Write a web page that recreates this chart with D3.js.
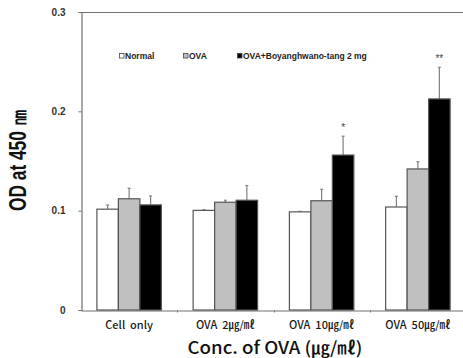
<!DOCTYPE html>
<html>
<head>
<meta charset="utf-8">
<script src="https://cdn.jsdelivr.net/npm/d3@7"></script>
<style>
  html, body { margin: 0; padding: 0; background: #fff; }
  svg { display: block; }
</style>
</head>
<body>
<svg id="chart" width="463" height="358"></svg>
<script>
// Groups along the x axis
const categories = ["Cell  only", "OVA  2㎍/㎖", "OVA  10㎍/㎖", "OVA  50㎍/㎖"];
// Series (legend order)
const seriesNames = ["Normal", "OVA", "OVA+Boyanghwano-tang 2 mg"];
const seriesColors = ["#ffffff", "#c0c0c0", "#000000"];
// Mean OD per series, one value per group
const normalValues = [0.1015, 0.1003, 0.0988, 0.1037];
const ovaValues    = [0.1120, 0.1085, 0.1100, 0.1420];
const boyangValues = [0.1058, 0.1105, 0.1560, 0.2125];
// Standard error per series, one value per group
const normalErr = [0.0042, 0.0006, 0.0005, 0.0108];
const ovaErr    = [0.0105, 0.0020, 0.0115, 0.0072];
const boyangErr = [0.0090, 0.0148, 0.0190, 0.0318];
// Significance marks per group for the Boyanghwano-tang series
const boyangSig = ["", "", "*", "**"];
// Y axis ticks
const yTicks = [0, 0.1, 0.2, 0.3];
const yTickLabels = ["0", "0.1", "0.2", "0.3"];

const seriesValues = [normalValues, ovaValues, boyangValues];
const seriesErr = [normalErr, ovaErr, boyangErr];

const svg = d3.select("#chart");
const plotLeft = 81, plotTop = 12, plotBottom = 310, plotRight = 466;

const x0 = d3.scaleBand().domain(categories).range([plotLeft, plotRight]).padding(0);
const x1 = d3.scaleBand().domain(d3.range(3)).range([0, x0.bandwidth()])
  .paddingInner(0).paddingOuter(0.74);
const y = d3.scaleLinear().domain([0, 0.3]).range([plotBottom, plotTop]);

const axisColor = "#707070";
const cjk = "'Noto Sans CJK KR', 'Noto Sans', sans-serif";
const sans = "'Liberation Sans', Arial, sans-serif";

// Frame: top border line
svg.append("line")
  .attr("x1", plotLeft).attr("x2", 463).attr("y1", y(0.3) + 0.5).attr("y2", y(0.3) + 0.5)
  .attr("stroke", axisColor).attr("stroke-width", 1.2);

// Y axis
const yAxis = svg.append("g").attr("transform", `translate(${plotLeft + 0.5},0)`)
  .call(d3.axisLeft(y).tickValues(yTicks).tickSize(3).tickFormat((d, i) => yTickLabels[i]));
yAxis.select(".domain").attr("stroke", axisColor).attr("stroke-width", 1.2);
yAxis.selectAll(".tick line").attr("stroke", axisColor);
yAxis.selectAll(".tick text")
  .attr("x", -16)
  .attr("fill", "#333")
  .style("font-family", sans).style("font-weight", "bold").style("font-size", "10px");

// X axis
const xAxis = svg.append("g").attr("transform", `translate(0,${plotBottom + 0.5})`)
  .call(d3.axisBottom(x0).tickSize(0).tickPadding(11));
xAxis.select(".domain").attr("stroke", axisColor).attr("stroke-width", 1.2);
xAxis.selectAll(".tick text")
  .attr("fill", "#1a1a1a")
  .style("font-family", cjk).style("font-size", "11px").style("font-weight", "500")
  .style("white-space", "pre")
  .attr("xml:space", "preserve");
// small ticks at group boundaries
xAxis.selectAll(".bound").data(categories.slice(1)).enter().append("line")
  .attr("x1", d => Math.round(x0(d)) + 0.5).attr("x2", d => Math.round(x0(d)) + 0.5)
  .attr("y1", 0).attr("y2", 2)
  .attr("stroke", axisColor);

// Bars
const groups = svg.append("g").selectAll("g").data(categories).enter().append("g")
  .attr("transform", d => `translate(${x0(d)},0)`);

groups.each(function (cat, gi) {
  const g = d3.select(this);
  seriesValues.forEach((vals, si) => {
    const v = vals[gi], e = seriesErr[si][gi];
    const bx = x1(si);
    const cx = bx + x1.bandwidth() / 2;
    // error bar
    g.append("line")
      .attr("x1", cx).attr("x2", cx).attr("y1", y(v)).attr("y2", y(v + e))
      .attr("stroke", "#808080").attr("stroke-width", 1.2);
    g.append("line")
      .attr("x1", cx - 1.5).attr("x2", cx + 1.5).attr("y1", y(v + e)).attr("y2", y(v + e))
      .attr("stroke", "#808080").attr("stroke-width", 1.2);
    // bar
    g.append("rect")
      .attr("x", bx).attr("y", y(v))
      .attr("width", x1.bandwidth()).attr("height", y(0) - y(v))
      .attr("fill", seriesColors[si])
      .attr("stroke", "#555").attr("stroke-width", 1.2);
    if (si === 2 && boyangSig[gi]) {
      g.append("text")
        .attr("x", cx).attr("y", y(v + e) - 5)
        .attr("text-anchor", "middle")
        .attr("fill", "#444")
        .style("font-family", sans).style("font-size", "10px")
        .text(boyangSig[gi]);
    }
  });
});

// Legend
const legendX = [119, 183, 237];
const legend = svg.append("g");
seriesNames.forEach((name, i) => {
  const lg = legend.append("g").attr("transform", `translate(${legendX[i]},56)`);
  lg.append("rect")
    .attr("x", 0.5).attr("y", -2.5).attr("width", 4.5).attr("height", 4.5)
    .attr("fill", seriesColors[i]).attr("stroke", "#444").attr("stroke-width", 0.8);
  lg.append("text")
    .attr("x", 6).attr("y", 3)
    .attr("fill", "#222")
    .style("font-family", sans).style("font-weight", "bold").style("font-size", "8.5px")
    .text(name);
});

// Axis titles
svg.append("text")
  .attr("transform", `translate(26,160) rotate(-90)`)
  .attr("text-anchor", "middle")
  .attr("fill", "#111")
  .attr("textLength", 102).attr("lengthAdjust", "spacingAndGlyphs")
  .style("font-family", sans).style("font-size", "24px").style("font-weight", "bold")
  .text("OD at 450 ㎚");

svg.append("text")
  .attr("x", 275).attr("y", 354)
  .attr("text-anchor", "middle")
  .attr("fill", "#111")
  .attr("textLength", 175).attr("lengthAdjust", "spacingAndGlyphs")
  .style("font-family", cjk).style("font-size", "17px").style("font-weight", "500")
  .text("Conc. of OVA (㎍/㎖)");
</script>
</body>
</html>
